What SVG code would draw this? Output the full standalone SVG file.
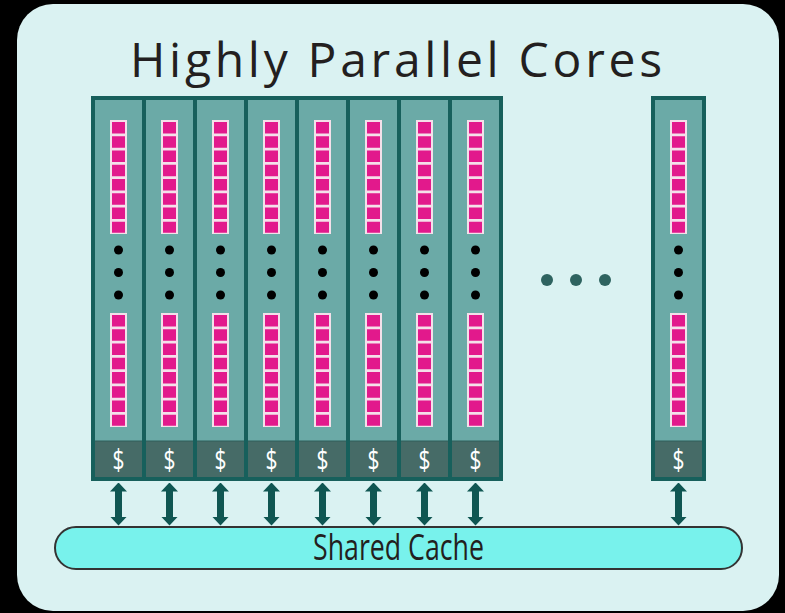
<svg xmlns="http://www.w3.org/2000/svg" xmlns:xlink="http://www.w3.org/1999/xlink" width="785" height="613" viewBox="0 0 785 613">
<style>
.col{fill:#6BAAA7;stroke:#17605C;stroke-width:4}
.cash{fill:#466B67}
.dollar{font-family:"Open Sans","DejaVu Sans",sans-serif;font-size:29px;fill:#ffffff;text-anchor:middle}
.dot{fill:#000}
.conn{stroke:#0F5652;stroke-width:7}
.title{font-family:"Open Sans","Liberation Sans",sans-serif;font-size:48px;fill:#231F20}
.cachelbl{font-family:"Open Sans","Liberation Sans",sans-serif;font-size:36px;fill:#231F20;text-anchor:middle}
</style>
<defs>
<marker id="ah" viewBox="0 0 9 17" refX="0.5" refY="8.5" markerWidth="9" markerHeight="17" orient="auto-start-reverse" markerUnits="userSpaceOnUse">
<path d="M0,0 L9,8.5 L0,17 z" fill="#0F5652"/>
</marker>
<g id="stack">
<rect x="-8.5" y="0" width="17" height="114" fill="#F4E0EA"/>
<rect x="-6.5" y="2" width="13" height="11.5" fill="#E2198C"/>
<rect x="-6.5" y="16.25" width="13" height="11.5" fill="#E2198C"/>
<rect x="-6.5" y="30.5" width="13" height="11.5" fill="#E2198C"/>
<rect x="-6.5" y="44.75" width="13" height="11.5" fill="#E2198C"/>
<rect x="-6.5" y="59" width="13" height="11.5" fill="#E2198C"/>
<rect x="-6.5" y="73.25" width="13" height="11.5" fill="#E2198C"/>
<rect x="-6.5" y="87.5" width="13" height="11.5" fill="#E2198C"/>
<rect x="-6.5" y="101.75" width="13" height="11" fill="#E2198C"/>
</g>
<g id="core">
<rect class="col" x="-25.5" y="98" width="51" height="381"/>
<rect class="cash" x="-23.5" y="441" width="47" height="36"/>
<line x1="-23.5" y1="441" x2="23.5" y2="441" stroke="#2E5E5A" stroke-width="1"/>
<use xlink:href="#stack" y="120"/>
<use xlink:href="#stack" y="313"/>
<circle class="dot" cx="0" cy="250" r="4.5"/>
<circle class="dot" cx="0" cy="272.5" r="4.5"/>
<circle class="dot" cx="0" cy="295" r="4.5"/>
<text class="dollar" x="0" y="470" textLength="12" lengthAdjust="spacingAndGlyphs">$</text>
</g>
</defs>
<rect x="0" y="0" width="785" height="613" fill="#000"/>
<rect x="17" y="4" width="762" height="607" rx="36" ry="36" fill="#DAF2F2"/>
<g id="title"><text class="title" x="130" y="77" textLength="532" lengthAdjust="spacing">Highly Parallel Cores</text></g>
<g id="core1"><use xlink:href="#core" x="118.5"/></g>
<g id="core2"><use xlink:href="#core" x="169.5"/></g>
<g id="core3"><use xlink:href="#core" x="220.5"/></g>
<g id="core4"><use xlink:href="#core" x="271.5"/></g>
<g id="core5"><use xlink:href="#core" x="322.5"/></g>
<g id="core6"><use xlink:href="#core" x="373.5"/></g>
<g id="core7"><use xlink:href="#core" x="424.5"/></g>
<g id="core8"><use xlink:href="#core" x="475.5"/></g>
<g id="coreN"><use xlink:href="#core" x="678.5"/></g>
<g id="ellipsis" fill="#2E6360">
<circle cx="547" cy="280" r="6"/>
<circle cx="576" cy="280" r="6"/>
<circle cx="605" cy="280" r="6"/>
</g>
<g id="shared-cache">
<rect x="55" y="527" width="687" height="42" rx="21" ry="21" fill="#78F2EC" stroke="#333" stroke-width="2"/>
<text class="cachelbl" x="398.5" y="560" textLength="171" lengthAdjust="spacingAndGlyphs">Shared Cache</text>
</g>
<g id="connectors">
<line class="conn" x1="118.5" y1="491" x2="118.5" y2="517" marker-start="url(#ah)" marker-end="url(#ah)"/>
<line class="conn" x1="169.5" y1="491" x2="169.5" y2="517" marker-start="url(#ah)" marker-end="url(#ah)"/>
<line class="conn" x1="220.5" y1="491" x2="220.5" y2="517" marker-start="url(#ah)" marker-end="url(#ah)"/>
<line class="conn" x1="271.5" y1="491" x2="271.5" y2="517" marker-start="url(#ah)" marker-end="url(#ah)"/>
<line class="conn" x1="322.5" y1="491" x2="322.5" y2="517" marker-start="url(#ah)" marker-end="url(#ah)"/>
<line class="conn" x1="373.5" y1="491" x2="373.5" y2="517" marker-start="url(#ah)" marker-end="url(#ah)"/>
<line class="conn" x1="424.5" y1="491" x2="424.5" y2="517" marker-start="url(#ah)" marker-end="url(#ah)"/>
<line class="conn" x1="475.5" y1="491" x2="475.5" y2="517" marker-start="url(#ah)" marker-end="url(#ah)"/>
<line class="conn" x1="678.5" y1="491" x2="678.5" y2="517" marker-start="url(#ah)" marker-end="url(#ah)"/>
</g>
</svg>
